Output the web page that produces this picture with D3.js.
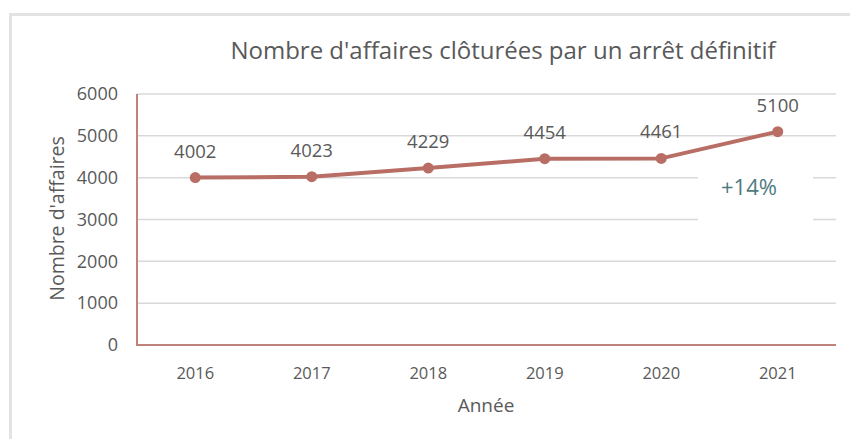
<!DOCTYPE html>
<html>
<head>
<meta charset="utf-8">
<script src="https://cdn.jsdelivr.net/npm/d3@7"></script>
<style>
  body { margin: 0; background: #fff; }
  text { font-family: "Open Sans", "Noto Sans", sans-serif; }
</style>
</head>
<body>
<svg id="chart" width="850" height="439"></svg>
<script>
// chart data
const years = ["2016", "2017", "2018", "2019", "2020", "2021"];
const affaires = [4002, 4023, 4229, 4454, 4461, 5100];
const yTicks = [0, 1000, 2000, 3000, 4000, 5000, 6000];

const width = 850, height = 439;
const margin = { left: 137, right: 14, top: 94, bottom: 94 };

const svg = d3.select("#chart");

// outer frame
svg.append("path")
    .attr("d", `M10.5,${height} V14.5 H${width}`)
    .attr("fill", "none")
    .attr("stroke", "#e3e3e3")
    .attr("stroke-width", 3);

const x = d3.scaleBand()
    .domain(years)
    .range([margin.left, width - margin.right]);

const y = d3.scaleLinear()
    .domain([0, 6000])
    .range([height - margin.bottom, margin.top]);

// gridlines
svg.append("g")
    .selectAll("line")
    .data(yTicks.filter(d => d > 0))
    .join("line")
    .attr("x1", margin.left)
    .attr("x2", width - margin.right)
    .attr("y1", d => y(d))
    .attr("y2", d => y(d))
    .attr("stroke", "#d9d9d9")
    .attr("stroke-width", 1.5);

// y tick labels
svg.append("g")
    .selectAll("text")
    .data(yTicks)
    .join("text")
    .attr("x", 118)
    .attr("y", d => y(d))
    .attr("dy", "0.35em")
    .attr("text-anchor", "end")
    .attr("fill", "#595959")
    .style("font-size", "18px")
    .text(d => d);

// x tick labels
svg.append("g")
    .selectAll("text")
    .data(years)
    .join("text")
    .attr("x", d => x(d) + x.bandwidth() / 2)
    .attr("y", 379)
    .attr("text-anchor", "middle")
    .attr("fill", "#595959")
    .style("font-size", "16.5px")
    .text(d => d);

// axis lines
svg.append("path")
    .attr("d", `M${margin.left},${y(6000)} V${y(0)} H${width - margin.right}`)
    .attr("fill", "none")
    .attr("stroke", "#c0837b")
    .attr("stroke-width", 2);

// +14% annotation box
svg.append("rect")
    .attr("x", 698)
    .attr("y", 162)
    .attr("width", 115)
    .attr("height", 64)
    .attr("fill", "#fff");
svg.append("text")
    .attr("x", 749)
    .attr("y", 195)
    .attr("text-anchor", "middle")
    .attr("fill", "#4e7b80")
    .style("font-size", "22px")
    .text("+14%");

// line + markers
const line = d3.line()
    .x((d, i) => x(years[i]) + x.bandwidth() / 2)
    .y(d => y(d));

svg.append("path")
    .datum(affaires)
    .attr("d", line)
    .attr("fill", "none")
    .attr("stroke", "#b86e64")
    .attr("stroke-width", 4)
    .attr("stroke-linejoin", "round");

svg.append("g")
    .selectAll("circle")
    .data(affaires)
    .join("circle")
    .attr("cx", (d, i) => x(years[i]) + x.bandwidth() / 2)
    .attr("cy", d => y(d))
    .attr("r", 5.5)
    .attr("fill", "#b86e64");

// value labels
svg.append("g")
    .selectAll("text")
    .data(affaires)
    .join("text")
    .attr("x", (d, i) => x(years[i]) + x.bandwidth() / 2)
    .attr("y", d => y(d) - 20)
    .attr("text-anchor", "middle")
    .attr("fill", "#595959")
    .style("font-size", "18.5px")
    .text(d => d);

// titles
svg.append("text")
    .attr("x", 503)
    .attr("y", 59)
    .attr("text-anchor", "middle")
    .attr("fill", "#595959")
    .style("font-size", "24px")
    .text("Nombre d'affaires clôturées par un arrêt définitif");

svg.append("text")
    .attr("x", 486)
    .attr("y", 412)
    .attr("text-anchor", "middle")
    .attr("fill", "#595959")
    .style("font-size", "19px")
    .text("Année");

svg.append("text")
    .attr("transform", `translate(64,${(y(0) + y(6000)) / 2 - 1}) rotate(-90)`)
    .attr("text-anchor", "middle")
    .attr("fill", "#595959")
    .style("font-size", "19.5px")
    .text("Nombre d'affaires");
</script>
</body>
</html>
